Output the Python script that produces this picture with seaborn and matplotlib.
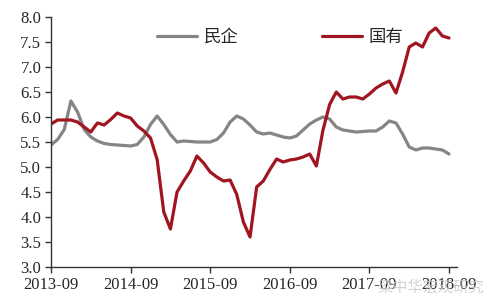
import numpy as np
import pandas as pd
import matplotlib
matplotlib.use('Agg')
import matplotlib.pyplot as plt
import seaborn as sns

# month index 0 = 2013-09
tick_pos = [0, 12, 24, 36, 48, 60]
tick_labels = ['2013-09', '2014-09', '2015-09', '2016-09', '2017-09', '2018-09']

private = [5.44, 5.55, 5.75, 6.32, 6.10, 5.75, 5.60, 5.52, 5.47, 5.45,
           5.44, 5.43, 5.42, 5.45, 5.60, 5.85, 6.02, 5.85, 5.65, 5.50,
           5.52, 5.51, 5.50, 5.50, 5.50, 5.55, 5.68, 5.90, 6.02, 5.96,
           5.84, 5.70, 5.66, 5.68, 5.64, 5.60, 5.58, 5.62, 5.74, 5.86,
           5.94, 6.00, 5.96, 5.80, 5.74, 5.72, 5.70, 5.71, 5.72, 5.72,
           5.80, 5.92, 5.88, 5.66, 5.40, 5.34, 5.38, 5.38, 5.36, 5.34,
           5.26]
state = [5.86, 5.94, 5.94, 5.94, 5.90, 5.80, 5.70, 5.88, 5.84, 5.95,
         6.08, 6.02, 5.98, 5.82, 5.72, 5.58, 5.15, 4.10, 3.76, 4.50,
         4.72, 4.92, 5.22, 5.08, 4.90, 4.80, 4.72, 4.74, 4.45, 3.90,
         3.60, 4.60, 4.72, 4.95, 5.16, 5.10, 5.14, 5.16, 5.20, 5.26,
         5.02, 5.74, 6.25, 6.50, 6.36, 6.40, 6.40, 6.36, 6.46, 6.58,
         6.66, 6.72, 6.48, 6.90, 7.40, 7.48, 7.40, 7.68, 7.78, 7.62,
         7.58]
months = np.arange(len(private))

sns.set_style('ticks')
plt.rcParams['font.family'] = ['Liberation Serif', 'Noto Sans CJK SC']

fig = plt.figure(figsize=(4.97, 3.06), dpi=100)
ax = fig.add_axes([51/497, 1-267/306, (457-51)/497, (267-17)/306])

sns.lineplot(x=months, y=private, color='#858585', linewidth=2.3, ax=ax, label='民企')
sns.lineplot(x=months, y=state, color='#a01520', linewidth=2.3, ax=ax, label='国有')

ax.set_xlim(0, 61.2)
ax.set_ylim(3.0, 8.0)
ax.set_yticks(np.arange(3.0, 8.01, 0.5))
ax.set_yticklabels(['{:.1f}'.format(v) for v in np.arange(3.0, 8.01, 0.5)], fontsize=12)
ax.set_xticks(tick_pos)
ax.set_xticklabels(tick_labels, fontsize=12)
ax.tick_params(axis='both', direction='out', length=4, width=1, color='#333333', pad=3)
for s in ['left', 'bottom']:
    ax.spines[s].set_color('#333333')
    ax.spines[s].set_linewidth(1)
sns.despine(ax=ax)

leg = ax.legend(loc='upper center', bbox_to_anchor=(0.565, 1.02), ncol=2, frameon=False,
                columnspacing=4.8, handlelength=2.3, handletextpad=0.4,
                prop={'family': 'Noto Sans CJK SC', 'size': 12.5})

fig.text(0.975, 0.062, '梁中华宏观研究', ha='right', va='center', fontsize=11,
         color='#c8c8c8', alpha=0.8, family='Noto Sans CJK SC')

plt.savefig('out.png', dpi=100)
plt.close('all')
